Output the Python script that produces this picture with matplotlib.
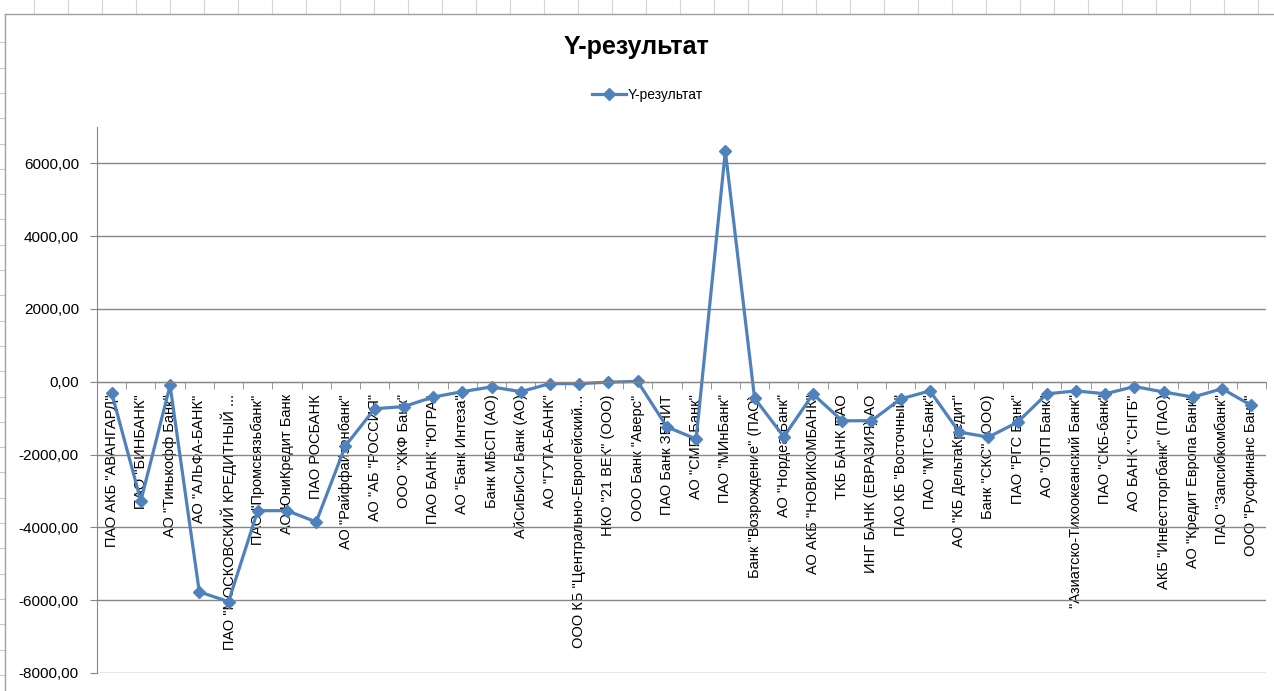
import matplotlib.pyplot as plt
from matplotlib.ticker import FuncFormatter, FixedLocator
from matplotlib.lines import Line2D

plt.rcParams['font.family'] = ['Liberation Sans', 'DejaVu Sans']

# Банки (подписи оси категорий)
banks = [
    'ПАО АКБ "АВАНГАРД"', 'ПАО "БИНБАНК"', 'АО "Тинькофф Банк"', 'АО "АЛЬФА-БАНК"',
    'ПАО "МОСКОВСКИЙ КРЕДИТНЫЙ ...', 'ПАО "Промсвязьбанк"', 'АО ЮниКредит Банк',
    'ПАО РОСБАНК', 'АО "Райффайзенбанк"', 'АО "АБ "РОССИЯ"', 'ООО "ХКФ Банк"',
    'ПАО БАНК "ЮГРА"', 'АО "Банк Интеза"', 'Банк МБСП (АО)', 'АйСиБиСи Банк (АО)',
    'АО "ГУТА-БАНК"', 'ООО КБ "Центрально-Европейский...', 'НКО "21 ВЕК" (ООО)',
    'ООО Банк "Аверс"', 'ПАО Банк ЗЕНИТ', 'АО "СМП Банк"', 'ПАО "МИнБанк"',
    'Банк "Возрождение" (ПАО)', 'АО "Нордеа Банк"', 'АО АКБ "НОВИКОМБАНК"',
    'ТКБ БАНК ПАО', 'ИНГ БАНК (ЕВРАЗИЯ) АО', 'ПАО КБ "Восточный"', 'ПАО "МТС-Банк"',
    'АО "КБ ДельтаКредит"', 'Банк "СКС" (ООО)', 'ПАО "РГС Банк"', 'АО "ОТП Банк"',
    '"Азиатско-Тихоокеанский Банк"', 'ПАО "СКБ-банк"', 'АО БАНК "СНГБ"',
    'АКБ "Инвестторгбанк" (ПАО)', 'АО "Кредит Европа Банк"', 'ПАО "Запсибкомбанк"',
    'ООО "Русфинанс Банк"',
]

# Y-результат
y_result = [
    -300, -3270, -100, -5770, -6040, -3540, -3540, -3850, -1760, -740,
    -680, -420, -270, -140, -270, -50, -50, -10, 10, -1240,
    -1570, 6340, -450, -1510, -340, -1070, -1070, -470, -250, -1380,
    -1520, -1110, -330, -250, -330, -130, -280, -420, -190, -650,
]

y_ticks = [-8000, -6000, -4000, -2000, 0, 2000, 4000, 6000]

blue = '#4F81BD'
grid_gray = '#868686'

fig = plt.figure(figsize=(12.74, 6.91), dpi=100)

# фон таблицы Excel вокруг диаграммы
for i in range(1, 38):
    fig.add_artist(Line2D([i * 34 / 1274] * 2, [1 - 14 / 691, 1], color='#d4d4e0', lw=0.8))
for j in range(1, 27):
    yy = 1 - (17 + j * 25.3) / 691
    fig.add_artist(Line2D([0, 5 / 1274], [yy, yy], color='#c8c8d0', lw=0.8))
fig.add_artist(Line2D([5 / 1274, 1], [1 - 14 / 691] * 2, color='#a0a0a0', lw=1))
fig.add_artist(Line2D([5 / 1274] * 2, [0, 1 - 14 / 691], color='#a0a0a0', lw=1))

ax = fig.add_axes([97 / 1274, 18 / 691, (1266 - 97) / 1274, (673 - 127) / 691])

x = list(range(len(banks)))
line, = ax.plot(x, y_result, color=blue, lw=2.3, marker='D', markersize=6,
                markerfacecolor=blue, markeredgecolor=blue, label='Y-результат')

ax.set_xlim(-0.5, len(banks) - 0.5)
ax.set_ylim(-8000, 7000)

ax.yaxis.set_major_locator(FixedLocator(y_ticks))
ax.yaxis.set_major_formatter(FuncFormatter(lambda v, p: f'{v:.2f}'.replace('.', ',')))
ax.tick_params(axis='y', labelsize=11, length=5, color=grid_gray, pad=8)
ax.grid(axis='y', color=grid_gray, lw=1)
ax.set_axisbelow(True)

# ось категорий проходит через 0
ax.spines['bottom'].set_position(('data', 0))
ax.spines['bottom'].set_color(grid_gray)
ax.spines['left'].set_color(grid_gray)
ax.spines['top'].set_visible(False)
ax.spines['right'].set_visible(False)

ax.set_xticks(x)
ax.set_xticklabels(banks, rotation=90, fontsize=10.5, va='top', ha='center')
ax.set_xticks([i - 0.5 for i in range(len(banks) + 1)], minor=True)
ax.tick_params(axis='x', which='major', length=0, pad=9)
ax.tick_params(axis='x', which='minor', length=5, color=grid_gray)

fig.text(0.5, 1 - 47 / 691, 'Y-результат', ha='center', va='center',
         fontsize=18, fontweight='bold')
fig.legend(handles=[line], loc='center', bbox_to_anchor=(0.508, 1 - 95 / 691),
           frameon=False, fontsize=10, handlelength=2.5, handletextpad=0.1)

fig.savefig('out.png', dpi=100, facecolor='white')
